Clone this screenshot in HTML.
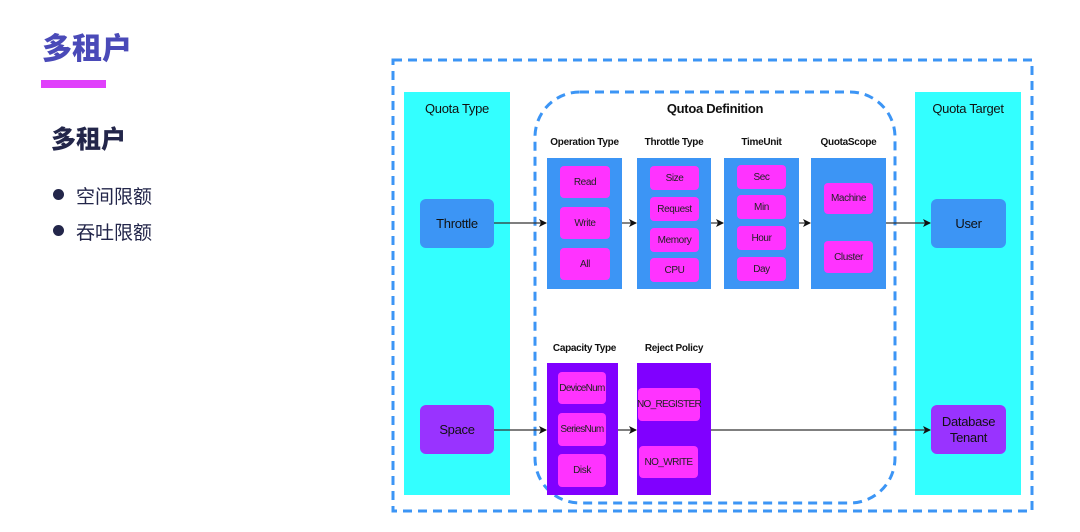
<!DOCTYPE html>
<html><head><meta charset="utf-8"><style>
body{margin:0;width:1080px;height:532px;background:#fff;position:relative;overflow:hidden;font-family:"Liberation Sans","Noto Sans CJK SC",sans-serif}
.a{position:absolute;box-sizing:border-box}
.c{display:flex;align-items:center;justify-content:center;text-align:center}
.col{background:#33ffff}
.blue{background:#3c95f5}
.pur{background:#8000ff}
.pk{background:#ff33ff;border-radius:4px;font-size:10px;color:#222;letter-spacing:-0.4px;white-space:nowrap}
.hd{font-size:10px;font-weight:bold;color:#111;text-align:center;letter-spacing:-0.3px}
.node{border-radius:6px;font-size:13px;color:#111;letter-spacing:-0.3px}
</style></head><body>
<div class="a" style="left:42px;top:24px;font-size:30px;font-weight:900;color:#4a4ab8;font-family:'Noto Sans CJK SC',sans-serif">多租户</div>
<div class="a" style="left:41px;top:80px;width:65px;height:8px;background:#e040fb"></div>
<div class="a" style="left:51px;top:120px;font-size:25px;font-weight:900;color:#23264a;font-family:'Noto Sans CJK SC',sans-serif">多租户</div>
<div class="a" style="left:53px;top:189px;width:11px;height:11px;border-radius:50%;background:#23264a"></div>
<div class="a" style="left:76px;top:182px;font-size:19px;color:#23264a;font-family:'Noto Sans CJK SC',sans-serif">空间限额</div>
<div class="a" style="left:53px;top:225px;width:11px;height:11px;border-radius:50%;background:#23264a"></div>
<div class="a" style="left:76px;top:218px;font-size:19px;color:#23264a;font-family:'Noto Sans CJK SC',sans-serif">吞吐限额</div>

<div class="a col" style="left:404px;top:92px;width:106px;height:403px"></div>
<div class="a col" style="left:915px;top:92px;width:106px;height:403px"></div>
<div class="a" style="left:404px;top:101px;width:106px;text-align:center;font-size:13px;color:#111;letter-spacing:-0.3px">Quota Type</div>
<div class="a" style="left:915px;top:101px;width:106px;text-align:center;font-size:13px;color:#111;letter-spacing:-0.3px">Quota Target</div>

<svg class="a" style="left:0;top:0" width="1080" height="532">
<rect x="393" y="60" width="639" height="451" fill="none" stroke="#3c95f5" stroke-width="3" stroke-dasharray="9,6"/>
<rect x="535" y="92" width="360" height="411" rx="45" fill="none" stroke="#3c95f5" stroke-width="3" stroke-dasharray="9,6"/>
</svg>
<div class="a" style="left:535px;top:101px;width:360px;text-align:center;font-size:13px;font-weight:bold;color:#111;letter-spacing:-0.3px">Qutoa Definition</div>

<div class="a hd" style="left:537px;top:137px;width:95px">Operation Type</div>
<div class="a hd" style="left:627px;top:137px;width:94px">Throttle Type</div>
<div class="a hd" style="left:714px;top:137px;width:95px">TimeUnit</div>
<div class="a hd" style="left:801px;top:137px;width:95px">QuotaScope</div>
<div class="a blue" style="left:547px;top:158px;width:75px;height:131px"></div>
<div class="a blue" style="left:637px;top:158px;width:74px;height:131px"></div>
<div class="a blue" style="left:724px;top:158px;width:75px;height:131px"></div>
<div class="a blue" style="left:811px;top:158px;width:75px;height:131px"></div>
<div class="a pk c" style="left:560px;top:166px;width:50px;height:32px">Read</div>
<div class="a pk c" style="left:560px;top:207px;width:50px;height:32px">Write</div>
<div class="a pk c" style="left:560px;top:248px;width:50px;height:32px">All</div>
<div class="a pk c" style="left:650px;top:166px;width:49px;height:24px">Size</div>
<div class="a pk c" style="left:650px;top:197px;width:49px;height:24px">Request</div>
<div class="a pk c" style="left:650px;top:228px;width:49px;height:24px">Memory</div>
<div class="a pk c" style="left:650px;top:258px;width:49px;height:24px">CPU</div>
<div class="a pk c" style="left:737px;top:165px;width:49px;height:24px">Sec</div>
<div class="a pk c" style="left:737px;top:195px;width:49px;height:24px">Min</div>
<div class="a pk c" style="left:737px;top:226px;width:49px;height:24px">Hour</div>
<div class="a pk c" style="left:737px;top:257px;width:49px;height:24px">Day</div>
<div class="a pk c" style="left:824px;top:183px;width:49px;height:31px">Machine</div>
<div class="a pk c" style="left:824px;top:241px;width:49px;height:32px">Cluster</div>

<div class="a hd" style="left:537px;top:343px;width:95px">Capacity Type</div>
<div class="a hd" style="left:627px;top:343px;width:94px">Reject Policy</div>
<div class="a pur" style="left:547px;top:363px;width:71px;height:132px"></div>
<div class="a pur" style="left:637px;top:363px;width:74px;height:132px"></div>
<div class="a pk c" style="left:558px;top:372px;width:48px;height:32px;letter-spacing:-0.7px">DeviceNum</div>
<div class="a pk c" style="left:558px;top:413px;width:48px;height:33px;letter-spacing:-0.7px">SeriesNum</div>
<div class="a pk c" style="left:558px;top:454px;width:48px;height:33px">Disk</div>
<div class="a pk c" style="left:638px;top:388px;width:62px;height:33px;letter-spacing:-0.7px">NO_REGISTER</div>
<div class="a pk c" style="left:639px;top:446px;width:59px;height:32px;letter-spacing:-0.6px">NO_WRITE</div>

<div class="a node c blue" style="left:420px;top:199px;width:74px;height:49px">Throttle</div>
<div class="a node c blue" style="left:931px;top:199px;width:75px;height:49px">User</div>
<div class="a node c" style="left:420px;top:405px;width:74px;height:49px;background:#9933ff">Space</div>
<div class="a node c" style="left:931px;top:405px;width:75px;height:49px;background:#9933ff;line-height:16px">Database<br>Tenant</div>

<svg class="a" style="left:0;top:0" width="1080" height="532">
<defs><marker id="m" markerWidth="8" markerHeight="8" refX="7" refY="4" orient="auto" markerUnits="userSpaceOnUse"><path d="M0,0L8,4L0,8L2,4z" fill="#111"/></marker></defs>
<g stroke="#333" stroke-width="1.2" marker-end="url(#m)">
<line x1="494" y1="223" x2="546" y2="223"/>
<line x1="622" y1="223" x2="636" y2="223"/>
<line x1="711" y1="223" x2="723" y2="223"/>
<line x1="799" y1="223" x2="810" y2="223"/>
<line x1="886" y1="223" x2="930" y2="223"/>
<line x1="494" y1="430" x2="546" y2="430"/>
<line x1="618" y1="430" x2="636" y2="430"/>
<line x1="711" y1="430" x2="930" y2="430"/>
</g></svg>
</body></html>
